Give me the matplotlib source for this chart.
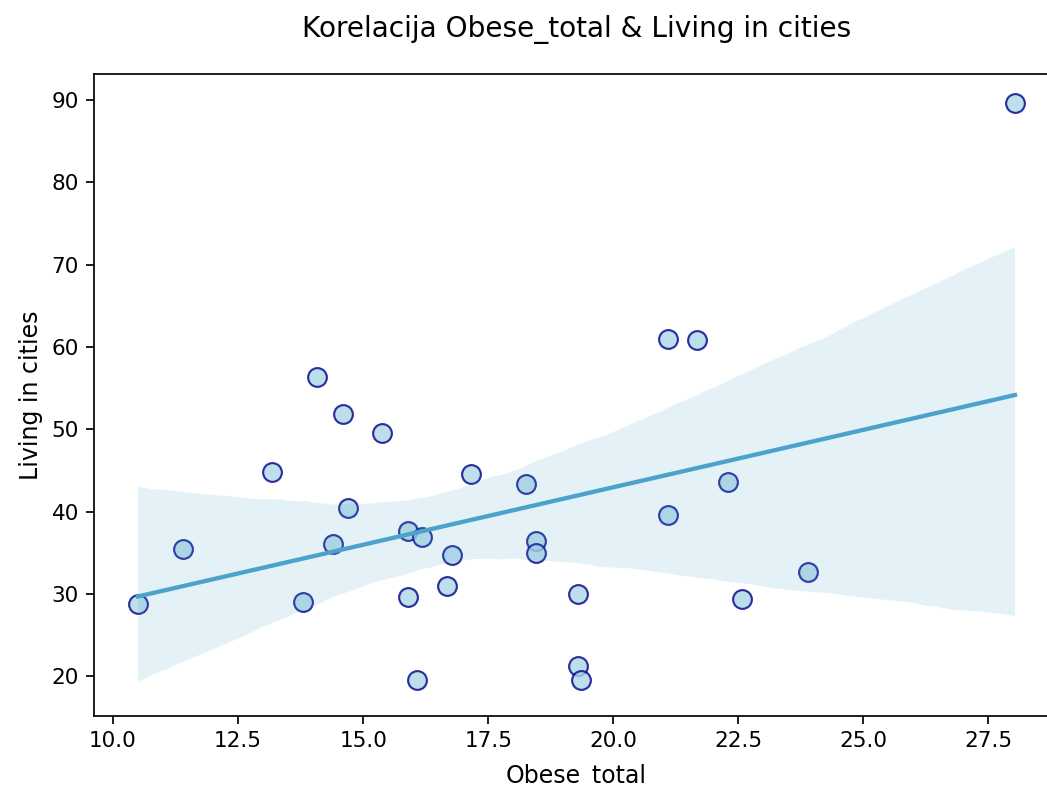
import matplotlib
matplotlib.use('Agg')
import matplotlib.pyplot as plt
import seaborn as sns
import numpy as np

# values
obese_total = [10.5, 11.4, 13.18, 13.79, 14.07, 14.39, 14.59, 14.69, 15.37,
               15.89, 15.89, 16.07, 16.17, 16.67, 16.78, 17.16, 18.26, 18.46,
               18.46, 19.29, 19.29, 19.35, 21.09, 21.67, 21.09, 22.30, 22.57,
               23.89, 28.03]
living_in_cities = [28.8, 35.5, 44.8, 29.0, 56.3, 36.1, 51.9, 40.4, 49.6,
                    37.7, 29.6, 19.6, 36.9, 31.0, 34.8, 44.6, 43.35, 36.4,
                    35.0, 30.0, 21.3, 19.6, 61.0, 60.8, 39.65, 43.6, 29.4,
                    32.7, 89.6]

x_name = 'Obese_total'
y_name = 'Living in cities'

DPI = 155


def main():
    fig = plt.figure(figsize=(1047 / DPI, 787 / DPI), dpi=DPI)
    # the reference is cropped on the right, so the axes run past the edge
    ax = fig.add_axes([94 / 1047, 1 - 716 / 787, (1059 - 94) / 1047, (716 - 74) / 787])

    sns.regplot(x=np.array(obese_total), y=np.array(living_in_cities), ax=ax,
                seed=3,
                scatter_kws={'s': 76, 'facecolor': 'lightblue',
                             'edgecolor': 'darkblue', 'linewidths': 1.0},
                line_kws={'color': '#4ba3cc', 'lw': 2})

    ax.set_xlim(9.62, 28.91)
    ax.set_ylim(15.2, 93.15)
    ax.set_xlabel(x_name, fontsize=11, labelpad=6)
    ax.set_ylabel(y_name, fontsize=11)
    ax.tick_params(labelsize=10)
    ax.set_title('Korelacija {} & {}'.format(x_name, y_name), fontsize=13, pad=17)

    fig.savefig('out.png', dpi=DPI)


if __name__ == '__main__':
    main()
